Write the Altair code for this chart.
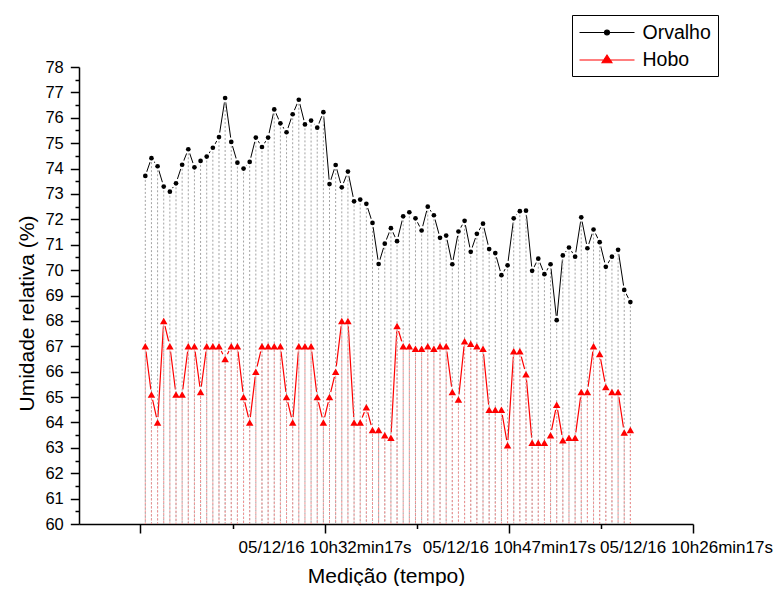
import altair as alt
import pandas as pd

# ---- data ----
orvalho = [73.71, 74.41, 74.09, 73.29, 73.09, 73.42, 74.15, 74.76, 74.05, 74.30,
           74.47, 74.82, 75.24, 76.78, 75.05, 74.23, 74.00, 74.26, 75.22, 74.85,
           75.22, 76.33, 75.78, 75.43, 76.14, 76.71, 75.74, 75.89, 75.61, 76.22,
           73.39, 74.14, 73.26, 73.88, 72.71, 72.78, 72.61, 71.86, 70.24, 71.04,
           71.65, 71.14, 72.12, 72.28, 72.04, 71.56, 72.50, 72.16, 71.27, 71.36,
           70.23, 71.52, 71.94, 70.72, 71.43, 71.83, 70.83, 70.67, 69.80, 70.19,
           72.04, 72.32, 72.34, 69.97, 70.45, 69.84, 70.23, 68.03, 70.58, 70.89,
           70.53, 72.08, 70.86, 71.60, 71.10, 70.13, 70.53, 70.80, 69.22, 68.74]
hobo = [67.0, 65.1, 64.0, 68.0, 67.0, 65.1, 65.1, 67.0, 67.0, 65.2,
        67.0, 67.0, 67.0, 66.5, 67.0, 67.0, 65.0, 64.0, 66.0, 67.0,
        67.0, 67.0, 67.0, 65.0, 64.0, 67.0, 67.0, 67.0, 65.0, 64.0,
        65.0, 66.0, 68.0, 68.0, 64.0, 64.0, 64.6, 63.7, 63.7, 63.5,
        63.4, 67.8, 67.0, 67.0, 66.9, 66.9, 67.0, 66.9, 67.0, 67.0,
        65.2, 64.9, 67.2, 67.1, 67.0, 66.9, 64.5, 64.5, 64.5, 63.1,
        66.8, 66.8, 65.9, 63.2, 63.2, 63.2, 63.5, 64.7, 63.3, 63.4,
        63.4, 65.2, 65.2, 67.0, 66.7, 65.4, 65.2, 65.2, 63.6, 63.7]
n = len(orvalho)
# sampling every 30 s, minutes after 05/12/16 10h17min17s
tempo_min = [0.4 + 0.5 * i for i in range(n)]

series_names = ["Orvalho", "Hobo"]
series_colors = ["#000000", "#ff0000"]
drop_colors = ["#a3a3a3", "#f59090"]
# legend glyphs: a 55 px line with the series marker in its middle
legend_paths = [
    "M-1,0H4.5M2.0,0A0.25,0.25,0,1,1,1.5,0A0.25,0.25,0,1,1,2.0,0Z",
    "M-1,0H4.5M1.75,-0.5L2.25,0.28L1.25,0.28Z",
]

x_tick_values = [0, 7.5, 15, 22.5, 30, 37.5, 45]
x_major_values = [15, 30, 45]
x_major_labels = ["05/12/16 10h32min17s", "05/12/16 10h47min17s", "05/12/16 10h26min17s"]
y_tick_values = [60 + 0.5 * k for k in range(37)]

df = pd.DataFrame({
    "t": tempo_min * 2,
    "valor": orvalho + hobo,
    "serie": [series_names[0]] * n + [series_names[1]] * n,
})

x_label_expr = ""
for v, lab in zip(x_major_values, x_major_labels):
    x_label_expr += f"datum.value === {v} ? '{lab}' : "
x_label_expr += "''"

FONT = "Liberation Sans"

x_axis = alt.Axis(
    values=x_tick_values, labelExpr=x_label_expr, grid=False,
    tickSize={"condition": {"test": "datum.value % 15 === 0", "value": 9}, "value": 4.5},
    labelOffset={"condition": {"test": "datum.value === 45", "value": -7}, "value": 0},
    labelFontSize=17, labelPadding=6, labelOverlap=False, labelFlush=False,
    labelAlign="center", titleFontSize=21, titleFontWeight="normal",
    titleBaseline="alphabetic", titleY=58,
)
y_axis = alt.Axis(
    values=y_tick_values,
    labelExpr="datum.value % 1 === 0 ? format(datum.value, 'd') : ''",
    grid=False,
    tickSize={"condition": {"test": "datum.value % 1 === 0", "value": 8.7}, "value": 4},
    labelFontSize=16.5, labelPadding=7, labelOverlap=False, labelFlush=False,
    titleFontSize=21, titleFontWeight="normal", titleAngle=-90,
    titleBaseline="alphabetic", titleAlign="center", titleX=-46, titleY=246,
)

X = alt.X("t:Q", scale=alt.Scale(domain=[-5, 45], nice=False, zero=False),
          axis=x_axis, title="Medição (tempo)")
Y = alt.Y("valor:Q", scale=alt.Scale(domain=[60, 78], nice=False, zero=False),
          axis=y_axis, title="Umidade relativa (%)")

base = alt.Chart(df).encode(x=X, y=Y)
o = base.transform_filter(alt.datum.serie == series_names[0])
h = base.transform_filter(alt.datum.serie == series_names[1])

line_o = o.mark_line(color=series_colors[0], strokeWidth=1)
line_h = h.mark_line(color=series_colors[1], strokeWidth=1.2)
gap_o = o.mark_point(filled=True, shape="circle", size=80, color="white", opacity=1)
gap_h = h.mark_point(filled=True, shape="circle", size=115, color="white", opacity=1)
drop_o = o.mark_rule(color=drop_colors[0], strokeDash=[2, 2], strokeWidth=1).encode(y2=alt.datum(60))
drop_h = h.mark_rule(color=drop_colors[1], strokeDash=[2, 2], strokeWidth=1).encode(y2=alt.datum(60))
dots_o = o.mark_point(filled=True, shape="circle", size=22, color=series_colors[0], opacity=1)
tri_h = h.mark_point(filled=True, shape="triangle-up", size=56, color=series_colors[1], opacity=1)

leg = alt.Legend(
    title=None, orient="none", legendX=493, legendY=-52,
    symbolSize=400, symbolStrokeWidth=1.1, symbolOpacity=1,
    labelFontSize=19.5, labelFont=FONT, labelColor="black", labelOffset=42,
    labelLimit=400, labelExpr="datum.label + '  '",
    padding=6.5, rowPadding=6.5, strokeColor="black", fillColor="white",
)
legend_layer = base.mark_point(filled=True, opacity=0).encode(
    fill=alt.Fill("serie:N", scale=alt.Scale(domain=series_names, range=series_colors), legend=leg),
    stroke=alt.Stroke("serie:N", scale=alt.Scale(domain=series_names, range=series_colors), legend=leg),
    shape=alt.Shape("serie:N", scale=alt.Scale(domain=series_names, range=legend_paths), legend=leg),
)

chart = alt.layer(
    line_o, line_h, gap_o, gap_h, drop_o, drop_h, dots_o, tri_h, legend_layer
).properties(
    width=614, height=457,
    autosize=alt.AutoSizeParams(type="none"),
    padding={"left": 71, "top": 59, "right": 82, "bottom": 62},
).configure_view(stroke=None).configure_axis(
    labelFont=FONT, titleFont=FONT, labelColor="black", titleColor="black",
    domainColor="black", tickColor="black", domainWidth=1.5, tickWidth=1.5,
).configure_legend(labelFont=FONT)

chart.save("out.html", embed_options={"renderer": "svg", "actions": False})
